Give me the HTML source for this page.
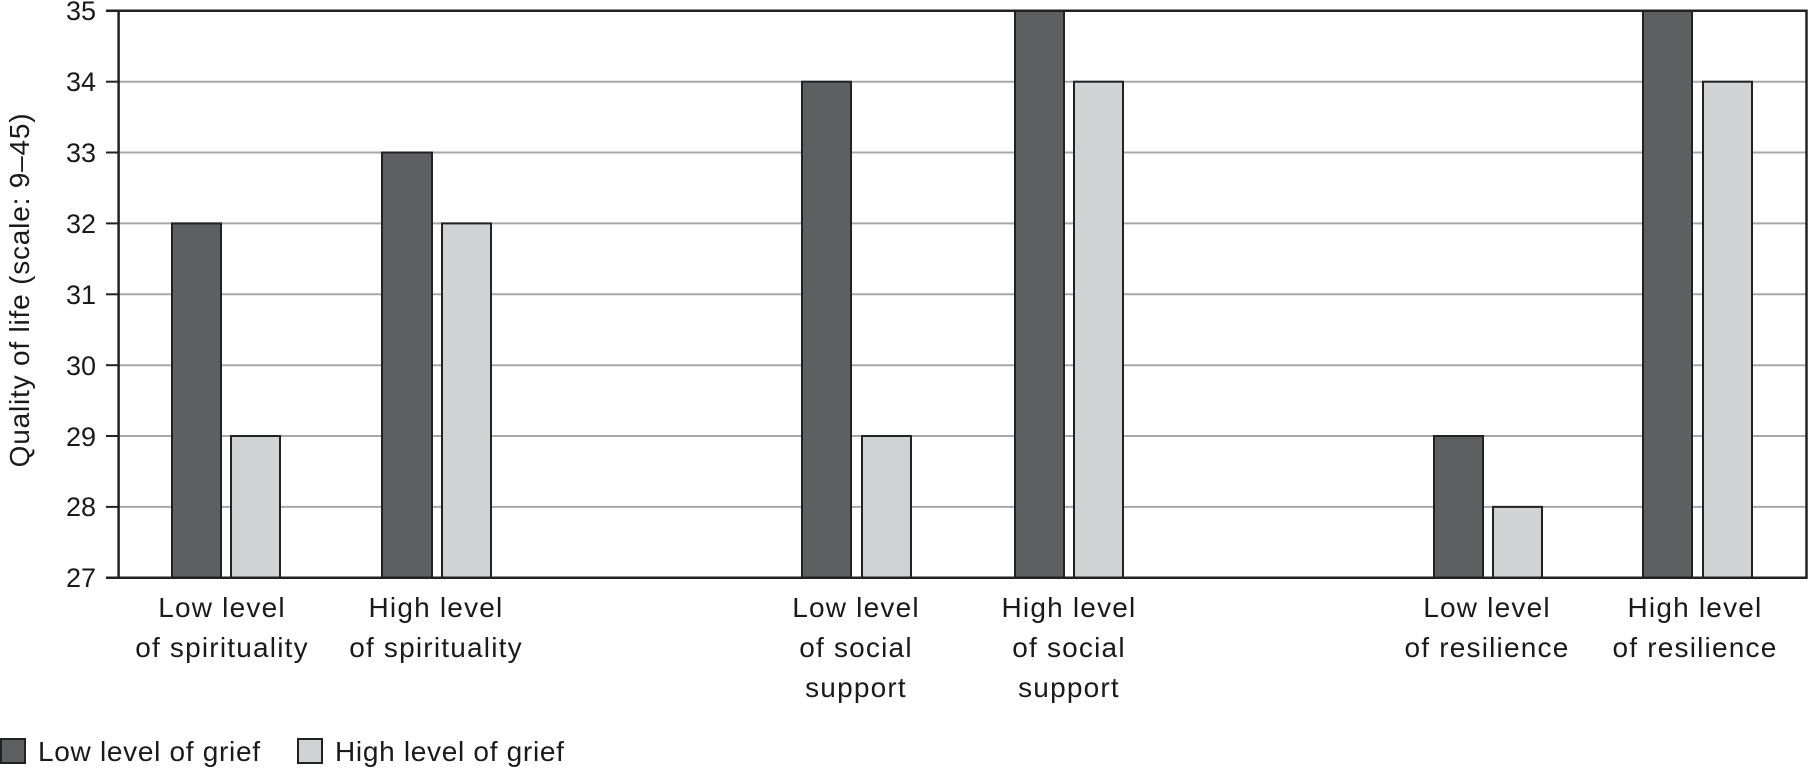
<!DOCTYPE html>
<html><head><meta charset="utf-8"><style>html,body{margin:0;padding:0;background:#fff}svg{display:block}</style></head>
<body>
<svg width="1808" height="769" viewBox="0 0 1808 769" xmlns="http://www.w3.org/2000/svg" font-family="Liberation Sans, sans-serif" fill="#1a1a1a">
<g stroke="#a8a8a8" stroke-width="2">
<line x1="119" x2="1807" y1="81.7" y2="81.7"/><line x1="119" x2="1807" y1="152.5" y2="152.5"/>
<line x1="119" x2="1807" y1="223.4" y2="223.4"/><line x1="119" x2="1807" y1="294.3" y2="294.3"/>
<line x1="119" x2="1807" y1="365.2" y2="365.2"/><line x1="119" x2="1807" y1="436" y2="436"/>
<line x1="119" x2="1807" y1="506.9" y2="506.9"/>
</g>
<g stroke="#222" stroke-width="2">
<rect x="172" y="223.4" width="49" height="354.3" fill="#5e5f61"/><rect x="231" y="436" width="49" height="141.7" fill="#d1d2d3"/>
<rect x="382" y="152.5" width="50" height="425.2" fill="#5e5f61"/><rect x="442" y="223.4" width="49" height="354.3" fill="#d1d2d3"/>
<rect x="802" y="81.7" width="49" height="496" fill="#5e5f61"/><rect x="862" y="436" width="49" height="141.7" fill="#d1d2d3"/>
<rect x="1015" y="10.8" width="49" height="566.9" fill="#5e5f61"/><rect x="1074" y="81.7" width="49" height="496" fill="#d1d2d3"/>
<rect x="1434" y="436" width="49" height="141.7" fill="#5e5f61"/><rect x="1493" y="506.9" width="49" height="70.8" fill="#d1d2d3"/>
<rect x="1643" y="10.8" width="49" height="566.9" fill="#5e5f61"/><rect x="1703" y="81.7" width="49" height="496" fill="#d1d2d3"/>
</g>
<g stroke="#222" stroke-width="2.5" fill="none">
<polyline points="106,10.8 1806.5,10.8 1806.5,577.7 106,577.7"/>
<line x1="118.6" y1="10" x2="118.6" y2="578"/>
</g>
<g stroke="#222" stroke-width="2">
<line x1="106" x2="119" y1="81.7" y2="81.7"/><line x1="106" x2="119" y1="152.5" y2="152.5"/>
<line x1="106" x2="119" y1="223.4" y2="223.4"/><line x1="106" x2="119" y1="294.3" y2="294.3"/>
<line x1="106" x2="119" y1="365.2" y2="365.2"/><line x1="106" x2="119" y1="436" y2="436"/>
<line x1="106" x2="119" y1="506.9" y2="506.9"/>
</g>
<g font-size="27" text-anchor="end">
<text x="96" y="20">35</text><text x="96" y="91">34</text><text x="96" y="162">33</text><text x="96" y="233">32</text>
<text x="96" y="304">31</text><text x="96" y="375">30</text><text x="96" y="446">29</text><text x="96" y="516">28</text><text x="96" y="587">27</text>
</g>
<text transform="translate(29,290) rotate(-90)" text-anchor="middle" font-size="28" letter-spacing="0.8">Quality of life (scale: 9–45)</text>
<g font-size="28" text-anchor="middle" letter-spacing="1.2">
<text x="222" y="617">Low level</text><text x="222" y="657">of spirituality</text>
<text x="436" y="617">High level</text><text x="436" y="657">of spirituality</text>
<text x="856" y="617">Low level</text><text x="856" y="657">of social</text><text x="856" y="697">support</text>
<text x="1069" y="617">High level</text><text x="1069" y="657">of social</text><text x="1069" y="697">support</text>
<text x="1487" y="617">Low level</text><text x="1487" y="657">of resilience</text>
<text x="1695" y="617">High level</text><text x="1695" y="657">of resilience</text>
</g>
<rect x="1" y="739" width="24" height="24" fill="#5e5f61" stroke="#222" stroke-width="2"/>
<text x="38" y="761" font-size="28" letter-spacing="0.7">Low level of grief</text>
<rect x="298" y="739" width="24" height="24" fill="#d1d2d3" stroke="#222" stroke-width="2"/>
<text x="335" y="761" font-size="28" letter-spacing="0.7">High level of grief</text>
</svg>
</body></html>
